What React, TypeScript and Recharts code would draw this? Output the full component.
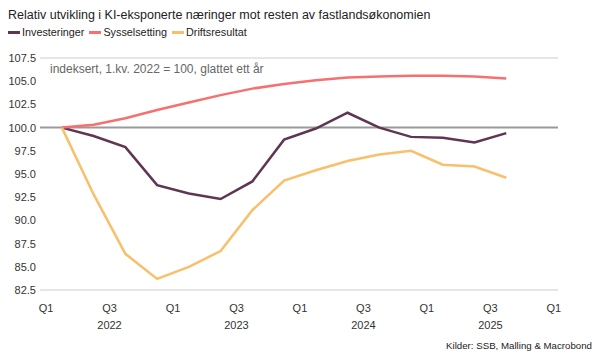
import {
  LineChart,
  Line,
  XAxis,
  YAxis,
  CartesianGrid,
  ReferenceLine,
} from "recharts";

const quarters = [
  "2022Q1", "2022Q2", "2022Q3", "2022Q4",
  "2023Q1", "2023Q2", "2023Q3", "2023Q4",
  "2024Q1", "2024Q2", "2024Q3", "2024Q4",
  "2025Q1", "2025Q2", "2025Q3",
];
const investeringer = [100.0, 99.1, 97.9, 93.8, 92.9, 92.3, 94.2, 98.7, 99.9, 101.6, 100.0, 99.0, 98.9, 98.4, 99.4];
const sysselsetting = [100.0, 100.3, 101.0, 101.9, 102.7, 103.5, 104.2, 104.7, 105.1, 105.4, 105.5, 105.6, 105.6, 105.5, 105.3];
const driftsresultat = [100.0, 92.8, 86.4, 83.7, 85.0, 86.7, 91.1, 94.3, 95.4, 96.4, 97.1, 97.5, 96.0, 95.8, 94.6];

const yTicks = [82.5, 85, 87.5, 90, 92.5, 95, 97.5, 100, 102.5, 105, 107.5];
// tick positions are quarter starts, counted from 1. kv. 2022
const xTickLabels = ["Q1", "Q3", "Q1", "Q3", "Q1", "Q3", "Q1", "Q3", "Q1"];
const yearLabels = ["", "2022", "", "2023", "", "2024", "", "2025", ""];

const series = [
  { key: "investeringer", name: "Investeringer", color: "#5e3552" },
  { key: "sysselsetting", name: "Sysselsetting", color: "#f7706f" },
  { key: "driftsresultat", name: "Driftsresultat", color: "#f9bf6b" },
];

// plotted in the middle of each quarter
const data = quarters.map((q, i) => ({
  q,
  x: i + 0.5,
  investeringer: investeringer[i],
  sysselsetting: sysselsetting[i],
  driftsresultat: driftsresultat[i],
}));

const xTicks = xTickLabels.map((_, i) => i * 2);

const font = "'Liberation Sans', Arial, sans-serif";

const XTick = ({ x, y, payload }: any) => {
  const idx = xTicks.indexOf(payload.value);
  return (
    <g>
      <text x={x} y={y + 22} textAnchor="middle" fontSize={11} fill="#333" fontFamily={font}>
        {xTickLabels[idx]}
      </text>
      <text x={x} y={y + 39} textAnchor="middle" fontSize={11} fill="#333" fontFamily={font}>
        {yearLabels[idx]}
      </text>
    </g>
  );
};

const LeftTick = ({ x, y, payload }: any) => (
  <text x={x - 4} y={y + 4} textAnchor="end" fontSize={11} fill="#333" fontFamily={font}>
    {payload.value.toFixed(1)}
  </text>
);

const RightTick = ({ x, y, payload }: any) => (
  <text x={x + 37} y={y + 4} textAnchor="end" fontSize={11} fill="#333" fontFamily={font}>
    {payload.value.toFixed(1)}
  </text>
);

export default function App() {
  return (
    <div style={{ position: "relative", width: 605, height: 364, fontFamily: font, background: "#fff" }}>
      <style>{`body{margin:0}`}</style>
      <div style={{ position: "absolute", left: 8, top: 8, fontSize: 12.5, color: "#222", whiteSpace: "nowrap" }}>
        Relativ utvikling i KI-eksponerte næringer mot resten av fastlandsøkonomien
      </div>
      <div style={{ position: "absolute", left: 8, top: 26, display: "flex", fontSize: 10.8, color: "#222" }}>
        {series.map((s) => (
          <span key={s.key} style={{ display: "flex", alignItems: "center", marginRight: 5 }}>
            <span style={{ display: "inline-block", width: 12, height: 3, background: s.color, marginRight: 2 }} />
            {s.name}
          </span>
        ))}
      </div>
      <LineChart width={605} height={364} data={data} margin={{ top: 58, right: 0, bottom: 44, left: 0 }}>
        <CartesianGrid vertical={false} stroke="#cccccc" strokeWidth={1} />
        <XAxis
          dataKey="x"
          type="number"
          domain={[-0.19, 16.13]}
          ticks={xTicks}
          tick={<XTick />}
          axisLine={false}
          tickLine={false}
          tickSize={0}
          tickMargin={0}
          height={30}
          interval={0}
        />
        <YAxis
          yAxisId="left"
          orientation="left"
          domain={[82.5, 107.5]}
          ticks={yTicks}
          tick={<LeftTick />}
          axisLine={false}
          tickLine={false}
          tickSize={0}
          tickMargin={0}
          width={40}
          interval={0}
        />
        <YAxis
          yAxisId="right"
          orientation="right"
          domain={[82.5, 107.5]}
          ticks={yTicks}
          tick={<RightTick />}
          axisLine={false}
          tickLine={false}
          tickSize={0}
          tickMargin={0}
          width={47}
          interval={0}
        />
        <ReferenceLine yAxisId="left" y={100} stroke="#9a9a9a" strokeWidth={2} />
        {series.map((s) => (
          <Line
            key={s.key}
            yAxisId="left"
            type="linear"
            dataKey={s.key}
            name={s.name}
            stroke={s.color}
            strokeWidth={2.5}
            dot={false}
            isAnimationActive={false}
          />
        ))}
      </LineChart>
      <div style={{ position: "absolute", left: 50, top: 62, fontSize: 12, color: "#666", whiteSpace: "nowrap" }}>
        indeksert, 1.kv. 2022 = 100, glattet ett år
      </div>
      <div style={{ position: "absolute", right: 13, top: 340, fontSize: 9.7, color: "#222", whiteSpace: "nowrap" }}>
        Kilder: SSB, Malling &amp; Macrobond
      </div>
    </div>
  );
}
